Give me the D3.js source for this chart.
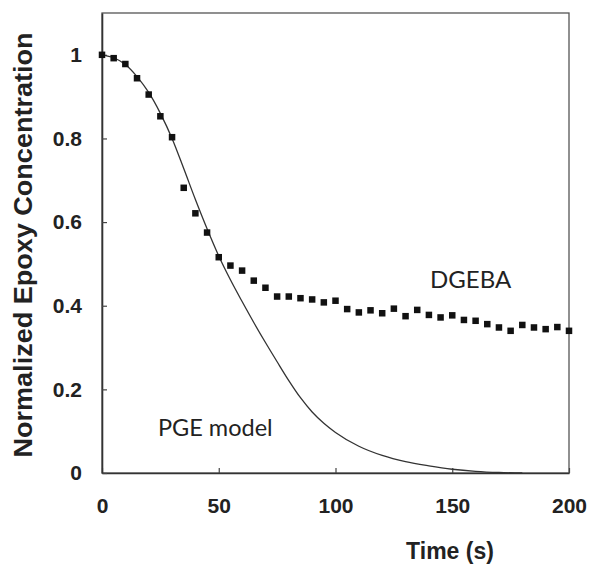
<!DOCTYPE html>
<html>
<head>
<meta charset="utf-8">
<script src="https://cdn.jsdelivr.net/npm/d3@7"></script>
<style>
  body { margin: 0; background: #fff; }
  svg { display: block; }
  .tick text { font-family: "Liberation Sans", Arial, sans-serif; font-weight: bold; fill: #222; }
</style>
</head>
<body>
<div id="chart"></div>
<script>
// DGEBA measured points (every 5 s)
const dgebaTime = [0, 5, 10, 15, 20, 25, 30, 35, 40, 45, 50, 55, 60, 65, 70, 75, 80, 85, 90, 95, 100,
    105, 110, 115, 120, 125, 130, 135, 140, 145, 150, 155, 160, 165, 170, 175, 180, 185, 190, 195, 200];
const dgebaConc = [1.0, 0.992, 0.978, 0.944, 0.905, 0.853, 0.803, 0.682, 0.621, 0.575, 0.516, 0.496, 0.484, 0.460, 0.443, 0.422, 0.422, 0.418, 0.415, 0.408, 0.412,
    0.392, 0.384, 0.389, 0.382, 0.393, 0.375, 0.390, 0.378, 0.372, 0.377, 0.366, 0.364, 0.356, 0.348, 0.340, 0.354, 0.348, 0.344, 0.349, 0.340];

// PGE model curve
const modelTime = [0, 5, 10, 15, 20, 25, 30, 35, 40, 45, 50, 55, 60, 65, 70, 75, 80, 85, 90, 95, 100,
    110, 120, 130, 140, 150, 160, 170, 180];
const modelConc = [1.0, 0.993, 0.977, 0.948, 0.910, 0.860, 0.800, 0.728, 0.654, 0.584, 0.519, 0.462, 0.410, 0.360, 0.312, 0.266, 0.221, 0.180, 0.146, 0.119, 0.097,
    0.064, 0.042, 0.027, 0.017, 0.009, 0.004, 0.0012, 0.0];

const xTicks = [0, 50, 100, 150, 200];
const yTicks = [0, 0.2, 0.4, 0.6, 0.8, 1];

const width = 590, height = 565;
const margin = { left: 102, right: 21, top: 13, bottom: 92 };

const svg = d3.select("#chart").append("svg")
    .attr("width", width)
    .attr("height", height);

const x = d3.scaleLinear().domain([0, 200]).range([margin.left, width - margin.right]);
const y = d3.scaleLinear().domain([0, 1.1]).range([height - margin.bottom, margin.top]);

// frame (top and right)
svg.append("rect")
    .attr("x", x(0)).attr("y", y(1.1))
    .attr("width", x(200) - x(0)).attr("height", y(0) - y(1.1))
    .attr("fill", "none")
    .attr("stroke", "#555")
    .attr("stroke-width", 1.3);

const xAxis = svg.append("g")
    .attr("transform", `translate(0,${y(0)})`)
    .call(d3.axisBottom(x).tickValues(xTicks).tickFormat(d3.format("d"))
        .tickSizeInner(-5).tickSizeOuter(0).tickPadding(25));

const yAxis = svg.append("g")
    .attr("transform", `translate(${x(0)},0)`)
    .call(d3.axisLeft(y).tickValues(yTicks).tickFormat(d => d === 0 || d === 1 ? d : d3.format(".1f")(d))
        .tickSizeInner(-5).tickSizeOuter(0).tickPadding(20));

[xAxis, yAxis].forEach(g => {
    g.select(".domain").attr("stroke", "#333").attr("stroke-width", 1.6);
    g.selectAll(".tick line").attr("stroke", "#444").attr("stroke-width", 1.2);
    g.selectAll(".tick text").attr("font-size", 21);
});

// model line
const line = d3.line()
    .x((d, i) => x(modelTime[i]))
    .y(d => y(d))
    .curve(d3.curveMonotoneX);

svg.append("path")
    .datum(modelConc)
    .attr("d", line)
    .attr("fill", "none")
    .attr("stroke", "#333")
    .attr("stroke-width", 1.3);

// DGEBA squares
const sq = 6.5;
svg.selectAll(".pt")
    .data(dgebaConc)
    .enter()
    .append("rect")
    .attr("class", "pt")
    .attr("x", (d, i) => x(dgebaTime[i]) - sq / 2)
    .attr("y", d => y(d) - sq / 2)
    .attr("width", sq)
    .attr("height", sq)
    .attr("fill", "#111");

// annotations
svg.append("text")
    .attr("x", 430).attr("y", 288)
    .attr("font-family", "Lato, 'Open Sans', sans-serif")
    .attr("font-size", 24)
    .attr("fill", "#222")
    .text("DGEBA");

svg.append("text")
    .attr("x", 158).attr("y", 436)
    .attr("font-family", "Lato, 'Open Sans', sans-serif")
    .attr("font-size", 23.5)
    .attr("fill", "#222")
    .text("PGE model");

// axis titles
svg.append("text")
    .attr("x", 450).attr("y", 559)
    .attr("text-anchor", "middle")
    .attr("font-family", "'Liberation Sans', Arial, sans-serif")
    .attr("font-weight", "bold")
    .attr("font-size", 23)
    .attr("fill", "#222")
    .text("Time (s)");

svg.append("text")
    .attr("transform", "translate(32,245) rotate(-90)")
    .attr("text-anchor", "middle")
    .attr("font-family", "'Liberation Sans', Arial, sans-serif")
    .attr("font-weight", "bold")
    .attr("font-size", 25)
    .attr("textLength", 425)
    .attr("lengthAdjust", "spacingAndGlyphs")
    .attr("fill", "#222")
    .text("Normalized Epoxy Concentration");
</script>
</body>
</html>
